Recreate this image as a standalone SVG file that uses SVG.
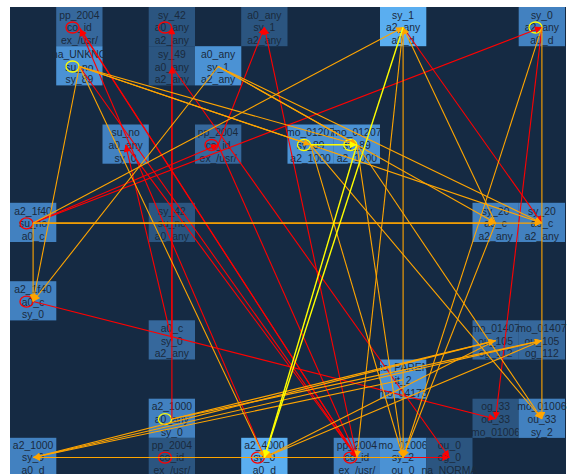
<svg xmlns="http://www.w3.org/2000/svg" width="569" height="474" viewBox="0 0 569 474">
<style>
.n1{fill:#2b5580}.n2{fill:#36689c}.n3{fill:#4281c0}.n4{fill:#4b92d4}.n5{fill:#5aaef0}
text{font-family:"Liberation Sans",Arial,sans-serif;font-size:10.4px;fill:#1a2a3c;text-anchor:middle}
.r{stroke:#ff0000;stroke-width:1.1;marker-end:url(#ar)}
.o{stroke:#ffa500;stroke-width:1.1;marker-end:url(#ao)}
.y{stroke:#ffff00;stroke-width:1.4;marker-end:url(#ay)}
.cr{fill:none;stroke:#ff0000;stroke-width:1.3}
.cy{fill:none;stroke:#ffff00;stroke-width:1.3}
</style>
<defs>
<marker id="ar" viewBox="0 0 10 10" refX="10" refY="5" markerWidth="8" markerHeight="7" markerUnits="userSpaceOnUse" orient="auto"><path d="M0,0L10,5L0,10z" fill="#ff0000"/></marker>
<marker id="ao" viewBox="0 0 10 10" refX="10" refY="5" markerWidth="8" markerHeight="7" markerUnits="userSpaceOnUse" orient="auto"><path d="M0,0L10,5L0,10z" fill="#ffa500"/></marker>
<marker id="ay" viewBox="0 0 10 10" refX="10" refY="5" markerWidth="8" markerHeight="7" markerUnits="userSpaceOnUse" orient="auto"><path d="M0,0L10,5L0,10z" fill="#ffff00"/></marker>
</defs>
<rect x="10" y="7" width="556" height="467" fill="#152a43"/>
<g id="n1"><rect class="n2" x="56.2" y="7" width="46.3" height="39.2"/><text><tspan x="79.4" y="18.7">pp_2004</tspan><tspan x="79.4" y="31.4">co_id</tspan><tspan x="79.4" y="44.1">ex_/usr/</tspan></text><ellipse class="cr" cx="72.5" cy="27.5" rx="6.5" ry="5.5"/></g>
<g id="n2"><rect class="n4" x="56.2" y="46.2" width="46.3" height="39.2"/><text><tspan x="79.4" y="57.9">na_UNKNO</tspan><tspan x="79.4" y="70.6">su_no</tspan><tspan x="79.4" y="83.3">sy_89</tspan></text><ellipse class="cy" cx="72.5" cy="66.5" rx="6.5" ry="5.5"/></g>
<g id="n3"><rect class="n1" x="148.7" y="7" width="46.3" height="39.2"/><text><tspan x="171.9" y="18.7">sy_42</tspan><tspan x="171.9" y="31.4">a0_any</tspan><tspan x="171.9" y="44.1">a2_any</tspan></text><ellipse class="cr" cx="165" cy="27.5" rx="6.5" ry="5.5"/></g>
<g id="n4"><rect class="n1" x="148.7" y="46.2" width="46.3" height="39.2"/><text><tspan x="171.9" y="57.9">sy_49</tspan><tspan x="171.9" y="70.6">a0_any</tspan><tspan x="171.9" y="83.3">a2_any</tspan></text></g>
<g id="n5"><rect class="n1" x="241.2" y="7" width="46.3" height="39.2"/><text><tspan x="264.4" y="18.7">a0_any</tspan><tspan x="264.4" y="31.4">sy_1</tspan><tspan x="264.4" y="44.1">a2_any</tspan></text></g>
<g id="n6"><rect class="n4" x="195" y="46.2" width="46.3" height="39.2"/><text><tspan x="218.1" y="57.9">a0_any</tspan><tspan x="218.1" y="70.6">sy_1</tspan><tspan x="218.1" y="83.3">a2_any</tspan></text></g>
<g id="n7"><rect class="n5" x="380" y="7" width="46.3" height="39.2"/><text><tspan x="403.1" y="18.7">sy_1</tspan><tspan x="403.1" y="31.4">a2_any</tspan><tspan x="403.1" y="44.1">a0_d</tspan></text></g>
<g id="n8"><rect class="n3" x="518.7" y="7" width="46.3" height="39.2"/><text><tspan x="541.9" y="18.7">sy_0</tspan><tspan x="541.9" y="31.4">a2_any</tspan><tspan x="541.9" y="44.1">a0_d</tspan></text><ellipse class="cy" cx="535.5" cy="27.5" rx="6.5" ry="5.5"/></g>
<g id="n9"><rect class="n3" x="102.5" y="124.5" width="46.3" height="39.2"/><text><tspan x="125.6" y="136.2">su_no</tspan><tspan x="125.6" y="148.9">a0_any</tspan><tspan x="125.6" y="161.6">sy_0</tspan></text></g>
<g id="n10"><rect class="n2" x="195" y="124.5" width="46.3" height="39.2"/><text><tspan x="218.1" y="136.2">pp_2004</tspan><tspan x="218.1" y="148.9">co_id</tspan><tspan x="218.1" y="161.6">ex_/usr/</tspan></text><ellipse class="cr" cx="211.5" cy="145" rx="6.5" ry="5.5"/></g>
<g id="n11"><rect class="n4" x="287.5" y="124.5" width="46.3" height="39.2"/><text><tspan x="310.6" y="136.2">mo_01207</tspan><tspan x="310.6" y="148.9">sy_89</tspan><tspan x="310.6" y="161.6">a2_1000</tspan></text><ellipse class="cy" cx="304" cy="145" rx="6.5" ry="5.5"/></g>
<g id="n12"><rect class="n4" x="333.7" y="124.5" width="46.3" height="39.2"/><text><tspan x="356.9" y="136.2">mo_01207</tspan><tspan x="356.9" y="148.9">sy_89</tspan><tspan x="356.9" y="161.6">a2_1000</tspan></text><ellipse class="cy" cx="350.3" cy="145" rx="6.5" ry="5.5"/></g>
<g id="n13"><rect class="n3" x="10" y="202.8" width="46.3" height="39.2"/><text><tspan x="33.1" y="214.5">a2_1f40</tspan><tspan x="33.1" y="227.2">su_no</tspan><tspan x="33.1" y="239.9">a0_c</tspan></text><ellipse class="cr" cx="26.5" cy="223.3" rx="6.5" ry="5.5"/></g>
<g id="n14"><rect class="n1" x="148.7" y="202.8" width="46.3" height="39.2"/><text><tspan x="171.9" y="214.5">sy_42</tspan><tspan x="171.9" y="227.2">su_no</tspan><tspan x="171.9" y="239.9">a0_any</tspan></text></g>
<g id="n15"><rect class="n3" x="472.5" y="202.8" width="46.3" height="39.2"/><text><tspan x="495.6" y="214.5">sy_20</tspan><tspan x="495.6" y="227.2">a0_c</tspan><tspan x="495.6" y="239.9">a2_any</tspan></text></g>
<g id="n16"><rect class="n3" x="518.7" y="202.8" width="46.3" height="39.2"/><text><tspan x="541.9" y="214.5">sy_20</tspan><tspan x="541.9" y="227.2">a0_c</tspan><tspan x="541.9" y="239.9">a2_any</tspan></text></g>
<g id="n17"><rect class="n3" x="10" y="281.2" width="46.3" height="39.2"/><text><tspan x="33.1" y="292.9">a2_1f40</tspan><tspan x="33.1" y="305.6">a0_c</tspan><tspan x="33.1" y="318.3">sy_0</tspan></text><ellipse class="cr" cx="26.5" cy="301.7" rx="6.5" ry="5.5"/></g>
<g id="n18"><rect class="n2" x="148.7" y="320.3" width="46.3" height="39.2"/><text><tspan x="171.9" y="332">a0_c</tspan><tspan x="171.9" y="344.7">sy_0</tspan><tspan x="171.9" y="357.4">a2_any</tspan></text></g>
<g id="n19"><rect class="n2" x="472.5" y="320.3" width="46.3" height="39.2"/><text><tspan x="495.6" y="332">mo_01407</tspan><tspan x="495.6" y="344.7">ou_105</tspan><tspan x="495.6" y="357.4">og_112</tspan></text></g>
<g id="n20"><rect class="n2" x="518.7" y="320.3" width="46.3" height="39.2"/><text><tspan x="541.9" y="332">mo_01407</tspan><tspan x="541.9" y="344.7">ou_105</tspan><tspan x="541.9" y="357.4">og_112</tspan></text></g>
<g id="n21"><rect class="n4" x="380" y="359.5" width="46.3" height="39.2"/><text><tspan x="403.1" y="371.2">na_PAREN</tspan><tspan x="403.1" y="383.9">it_2</tspan><tspan x="403.1" y="396.6">mo_04173</tspan></text></g>
<g id="n22"><rect class="n1" x="472.5" y="398.7" width="46.3" height="39.2"/><text><tspan x="495.6" y="410.4">og_33</tspan><tspan x="495.6" y="423.1">ou_33</tspan><tspan x="495.6" y="435.8">mo_01006</tspan></text></g>
<g id="n23"><rect class="n3" x="518.7" y="398.7" width="46.3" height="39.2"/><text><tspan x="541.9" y="410.4">mo_01006</tspan><tspan x="541.9" y="423.1">ou_33</tspan><tspan x="541.9" y="435.8">sy_2</tspan></text></g>
<g id="n24"><rect class="n3" x="148.7" y="398.7" width="46.3" height="39.2"/><text><tspan x="171.9" y="410.4">a2_1000</tspan><tspan x="171.9" y="423.1">a0_any</tspan><tspan x="171.9" y="435.8">sy_0</tspan></text><ellipse class="cy" cx="165" cy="419.2" rx="6.5" ry="5.5"/></g>
<g id="n25"><rect class="n1" x="148.7" y="437.8" width="46.3" height="39.2"/><text><tspan x="171.9" y="448.8">pp_2004</tspan><tspan x="171.9" y="461.3">co_id</tspan><tspan x="171.9" y="473.6">ex_/usr/</tspan></text><ellipse class="cr" cx="165" cy="457.6" rx="6.5" ry="5.5"/></g>
<g id="n26"><rect class="n3" x="10" y="437.8" width="46.3" height="39.2"/><text><tspan x="33.1" y="448.8">a2_1000</tspan><tspan x="33.1" y="461.3">sy_0</tspan><tspan x="33.1" y="473.6">a0_d</tspan></text></g>
<g id="n27"><rect class="n5" x="241.2" y="437.8" width="46.3" height="39.2"/><text><tspan x="264.4" y="448.8">a2_4000</tspan><tspan x="264.4" y="461.3">sy_0</tspan><tspan x="264.4" y="473.6">a0_d</tspan></text><ellipse class="cr" cx="257.8" cy="457.6" rx="6.5" ry="5.5"/></g>
<g id="n28"><rect class="n3" x="333.7" y="437.8" width="46.3" height="39.2"/><text><tspan x="356.9" y="448.8">pp_2004</tspan><tspan x="356.9" y="461.3">co_id</tspan><tspan x="356.9" y="473.6">ex_/usr/</tspan></text><ellipse class="cr" cx="350.3" cy="457.6" rx="6.5" ry="5.5"/></g>
<g id="n29"><rect class="n4" x="380" y="437.8" width="46.3" height="39.2"/><text><tspan x="403.1" y="448.8">mo_01006</tspan><tspan x="403.1" y="461.3">sy_2</tspan><tspan x="403.1" y="473.6">ou_0</tspan></text></g>
<g id="n30"><rect class="n1" x="426.2" y="437.8" width="46.3" height="39.2"/><text><tspan x="449.4" y="448.8">ou_0</tspan><tspan x="449.4" y="461.3">og_0</tspan><tspan x="449.4" y="473.6">na_NORMA</tspan></text></g>
<g id="edges">
<line class="r" x1="264.4" y1="457.5" x2="80" y2="29"/>
<line class="r" x1="356.9" y1="457.5" x2="80" y2="29"/>
<line class="r" x1="171.9" y1="419" x2="171.9" y2="27.3"/>
<line class="r" x1="171.9" y1="340.6" x2="171.9" y2="66.5"/>
<line class="r" x1="218.1" y1="144.8" x2="264.4" y2="27.3"/>
<line class="r" x1="356.9" y1="457.5" x2="264.4" y2="27.3"/>
<line class="r" x1="33.1" y1="223.1" x2="541.9" y2="27.3"/>
<line class="r" x1="33.1" y1="223.1" x2="218.1" y2="144.8"/>
<line class="r" x1="541.9" y1="27.3" x2="495.6" y2="419"/>
<line class="r" x1="403.1" y1="27.3" x2="541.9" y2="223.1"/>
<line class="r" x1="33.1" y1="301.5" x2="495.6" y2="419"/>
<line class="r" x1="171.9" y1="66.5" x2="449.4" y2="457.5"/>
<line class="r" x1="264.4" y1="457.5" x2="449.4" y2="457.5"/>
<line class="r" x1="79.4" y1="66.5" x2="356.9" y2="457.5"/>
<line class="r" x1="218.1" y1="144.8" x2="356.9" y2="457.5"/>
<line class="r" x1="125.6" y1="144.8" x2="356.9" y2="457.5"/>
<line class="r" x1="79.4" y1="27.3" x2="356.9" y2="457.5"/>
<line class="r" x1="171.9" y1="340.6" x2="125.6" y2="144.8"/>
<line class="o" x1="33.1" y1="223.1" x2="495.6" y2="223.1"/>
<line class="o" x1="33.1" y1="223.1" x2="541.9" y2="223.1"/>
<line class="o" x1="218.1" y1="66.5" x2="495.6" y2="223.1"/>
<line class="o" x1="218.1" y1="66.5" x2="541.9" y2="223.1"/>
<line class="o" x1="79.4" y1="66.5" x2="33.1" y2="301.5"/>
<line class="o" x1="218.1" y1="66.5" x2="33.1" y2="301.5"/>
<line class="o" x1="33.1" y1="223.1" x2="33.1" y2="301.5"/>
<line class="o" x1="79.4" y1="66.5" x2="310.6" y2="144.8"/>
<line class="o" x1="79.4" y1="66.5" x2="356.9" y2="144.8"/>
<line class="o" x1="79.4" y1="66.5" x2="541.9" y2="223.1"/>
<line class="o" x1="495.6" y1="223.1" x2="403.1" y2="27.3"/>
<line class="o" x1="33.1" y1="223.1" x2="403.1" y2="27.3"/>
<line class="o" x1="403.1" y1="27.3" x2="403.1" y2="457.5"/>
<line class="o" x1="541.9" y1="27.3" x2="541.9" y2="419"/>
<line class="o" x1="541.9" y1="27.3" x2="403.1" y2="457.5"/>
<line class="o" x1="310.6" y1="144.8" x2="541.9" y2="419"/>
<line class="o" x1="356.9" y1="144.8" x2="541.9" y2="419"/>
<line class="o" x1="310.6" y1="144.8" x2="403.1" y2="457.5"/>
<line class="o" x1="356.9" y1="144.8" x2="403.1" y2="457.5"/>
<line class="o" x1="495.6" y1="223.1" x2="403.1" y2="457.5"/>
<line class="o" x1="79.4" y1="66.5" x2="264.4" y2="457.5"/>
<line class="o" x1="495.6" y1="340.6" x2="264.4" y2="457.5"/>
<line class="o" x1="541.9" y1="340.6" x2="264.4" y2="457.5"/>
<line class="o" x1="33.1" y1="457.5" x2="495.6" y2="340.6"/>
<line class="o" x1="33.1" y1="457.5" x2="541.9" y2="340.6"/>
<line class="o" x1="171.9" y1="419" x2="495.6" y2="340.6"/>
<line class="o" x1="171.9" y1="419" x2="541.9" y2="340.6"/>
<line class="o" x1="403.1" y1="457.5" x2="33.1" y2="457.5"/>
<line class="o" x1="403.1" y1="379.8" x2="33.1" y2="457.5"/>
<line class="o" x1="218.1" y1="66.5" x2="356.9" y2="144.8"/>
<line class="o" x1="403.1" y1="27.3" x2="356.9" y2="457.5"/>
<line class="y" x1="403.1" y1="27.3" x2="264.4" y2="457.5"/>
<line class="y" x1="356.9" y1="144.8" x2="264.4" y2="457.5"/>
<line class="y" x1="310.6" y1="144.8" x2="356.9" y2="144.8"/>
</g>
</svg>
